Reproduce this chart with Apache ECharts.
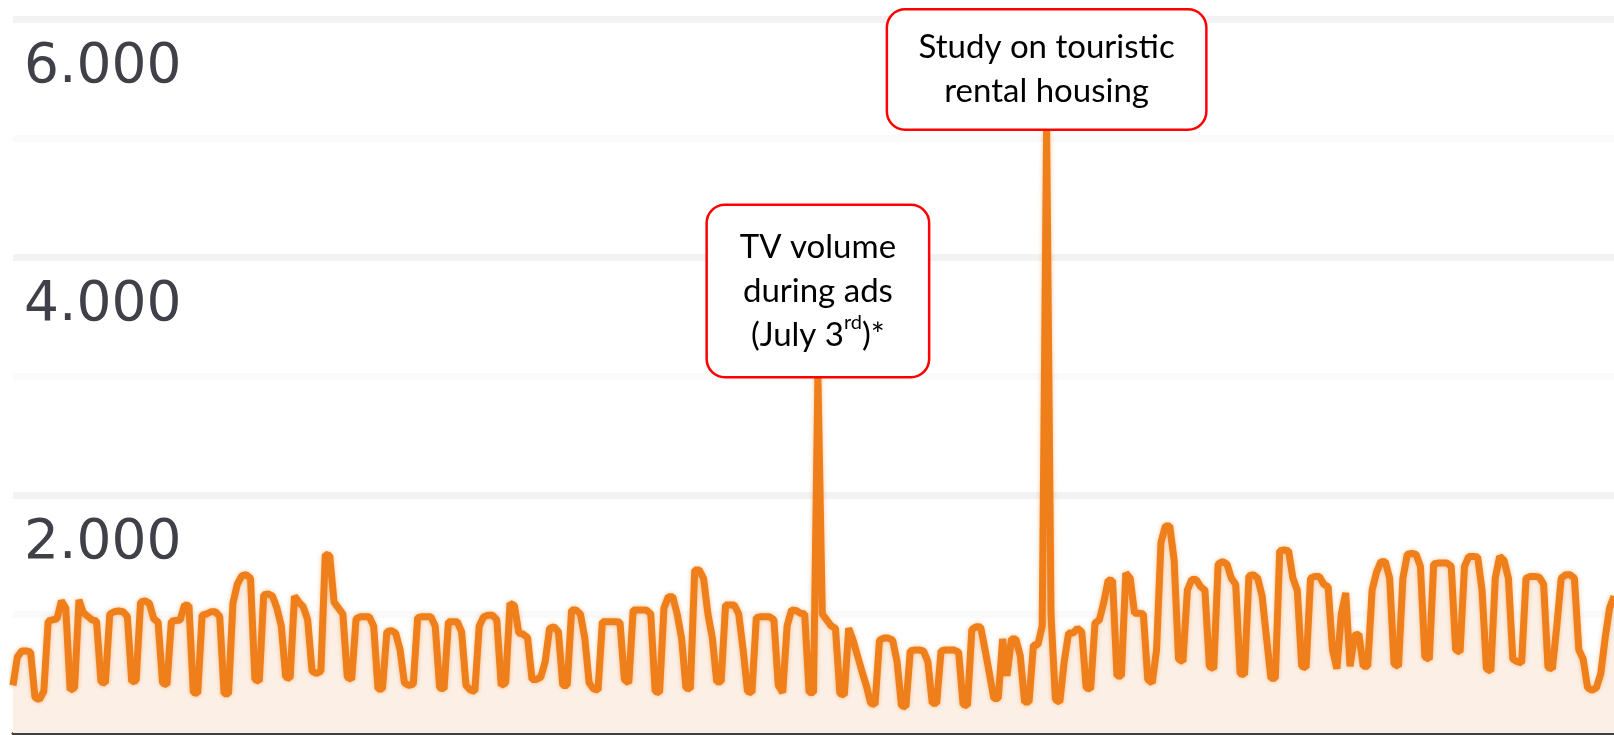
<!DOCTYPE html>
<html>
<head>
<meta charset="utf-8">
<script src="https://cdn.jsdelivr.net/npm/echarts@6/dist/echarts.min.js"></script>
<style>
  html, body { margin: 0; padding: 0; background: #ffffff; }
  #chart { width: 1614px; height: 735px; }
</style>
</head>
<body>
<div id="chart"></div>
<script>
// Daily values, 2017-01-01 (Sunday) .. 2017-12-31, one row per week: Sun, Mon..Fri, Sat
const visits = [
  400, 640, 690, 690, 680, 300, 280,
  350, 940, 950, 960, 1110, 1050, 360,
  380, 1118, 1010, 980, 950, 940, 430,
  420, 1000, 1019, 1025, 1019, 980, 430,
  440, 1100, 1110, 1090, 960, 930, 420,
  406, 940, 945, 950, 1075, 1070, 340,
  333, 991, 1000, 1019, 1019, 980, 330,
  330, 1090, 1250, 1320, 1330, 1300, 450,
  434, 1160, 1170, 1150, 1050, 900, 470,
  460, 1150, 1100, 1060, 950, 520, 500,
  520, 1500, 1490, 1100, 1050, 1000, 470,
  450, 960, 977, 977, 977, 900, 370,
  370, 850, 860, 840, 700, 420, 400,
  410, 970, 977, 977, 977, 900, 380,
  370, 935, 935, 935, 850, 400, 360,
  350, 900, 977, 990, 990, 950, 400,
  420, 1090, 1070, 840, 830, 800, 450,
  450, 470, 600, 880, 893, 850, 400,
  400, 1034, 1034, 1000, 800, 420, 370,
  360, 935, 935, 935, 935, 930, 450,
  420, 1034, 1034, 1034, 1034, 1000, 350,
  340, 1050, 1146, 1146, 1000, 800, 380,
  370, 1370, 1370, 1300, 1000, 800, 430,
  430, 1075, 1075, 1075, 1000, 700, 350,
  340, 970, 977, 977, 977, 950, 400,
  340, 900, 1034, 1030, 1006, 1000, 340,
  340, 3000, 1000, 950, 900, 880, 330,
  320, 880, 780, 650, 520, 400, 250,
  240, 780, 798, 798, 780, 600, 230,
  220, 690, 697, 697, 690, 600, 250,
  250, 690, 697, 697, 697, 680, 240,
  230, 870, 893, 890, 700, 500, 290,
  290, 790, 480, 790, 790, 650, 260,
  260, 740, 740, 900, 5080, 1000, 280,
  260, 600, 840, 840, 880, 850, 380,
  370, 924, 950, 1100, 1285, 1280, 480,
  480, 1344, 1300, 1006, 1006, 1000, 450,
  420, 700, 1600, 1740, 1740, 1450, 620,
  600, 1200, 1290, 1290, 1230, 1200, 560,
  540, 1420, 1440, 1420, 1300, 1250, 500,
  490, 1320, 1330, 1300, 1150, 800, 460,
  460, 1530, 1538, 1530, 1300, 1200, 560,
  550, 1300, 1316, 1316, 1250, 1229, 700,
  540, 1000, 1176, 560, 820, 830, 560,
  560, 1200, 1350, 1440, 1440, 1300, 580,
  560, 1300, 1500, 1510, 1500, 1400, 640,
  620, 1420, 1428, 1428, 1428, 1400, 700,
  680, 1400, 1484, 1484, 1480, 1200, 540,
  520, 1300, 1484, 1450, 1300, 620, 600,
  590, 1300, 1316, 1316, 1310, 1250, 550,
  540, 900, 1300, 1330, 1330, 1300, 700,
  620, 380, 360, 380, 500, 800, 1050,
  1150
];

// Category labels: one per day of 2017
const categories = [];
for (let i = 0; i < visits.length; i++) {
  const d = new Date(Date.UTC(2017, 0, 1 + i));
  categories.push(d.toISOString().slice(0, 10));
}

const yLabelValues = [2000, 4000, 6000];
const yLabelTexts = ['2.000', '4.000', '6.000'];

const annotationDates = ['2017-07-03', '2017-08-24'];
const annotationTexts = [
  ['TV volume', 'during ads', '(July 3{sup|rd})*'],
  ['Study on touristic', 'rental housing']
];
const annotationBoxWidths = [220, 317];
const annotationPadding = [19, 15];

const chart = echarts.init(document.getElementById('chart'), null, { renderer: 'canvas' });

const markData = annotationDates.map((dt, i) => ({
  coord: [dt, visits[categories.indexOf(dt)]],
  label: {
    show: true,
    position: 'top',
    distance: 0,
    formatter: annotationTexts[i].join('\n'),
    backgroundColor: '#ffffff',
    borderColor: '#ff0000',
    borderWidth: 2.5,
    borderRadius: 17,
    padding: [annotationPadding[i], 0],
    width: annotationBoxWidths[i],
    align: 'center',
    fontFamily: 'Lato',
    fontSize: 33,
    lineHeight: 44,
    color: '#000000',
    rich: {
      sup: { fontFamily: 'Lato', fontSize: 20, lineHeight: 26, verticalAlign: 'top', color: '#000000' }
    }
  }
}));

chart.setOption({
  animation: false,
  backgroundColor: '#ffffff',
  grid: { left: 13, right: 0, top: 19, bottom: 2, containLabel: false },
  xAxis: {
    type: 'category',
    data: categories,
    boundaryGap: false,
    axisLine: { show: true, lineStyle: { color: '#404040', width: 3 } },
    axisTick: { show: false },
    axisLabel: { show: false },
    splitLine: { show: false }
  },
  yAxis: {
    type: 'value',
    min: 0,
    max: 6000,
    interval: 1000,
    axisLine: { show: false },
    axisTick: { show: false },
    splitLine: { show: true, lineStyle: { color: ['#f2f2f2', '#fafafa'], width: 7 } },
    axisLabel: {
      show: true,
      inside: true,
      margin: 11,
      align: 'left',
      verticalAlign: 'top',
      padding: [21, 0, 0, 0],
      fontFamily: 'DejaVu Sans',
      fontSize: 55,
      color: '#404048',
      formatter: function (v) {
        const k = yLabelValues.indexOf(v);
        return k >= 0 ? yLabelTexts[k] : '';
      }
    }
  },
  series: [{
    type: 'line',
    data: visits,
    symbol: 'none',
    smooth: false,
    lineStyle: {
      color: '#ee7f1a',
      width: 7,
      shadowBlur: 4,
      shadowColor: 'rgba(238,127,26,0.45)'
    },
    itemStyle: { color: '#ee7f1a' },
    areaStyle: { color: '#fcf0e6', opacity: 1 },
    markPoint: {
      symbol: 'rect',
      symbolSize: 0.1,
      itemStyle: { color: 'rgba(0,0,0,0)' },
      z: 10,
      data: markData
    }
  }]
});
</script>
</body>
</html>
